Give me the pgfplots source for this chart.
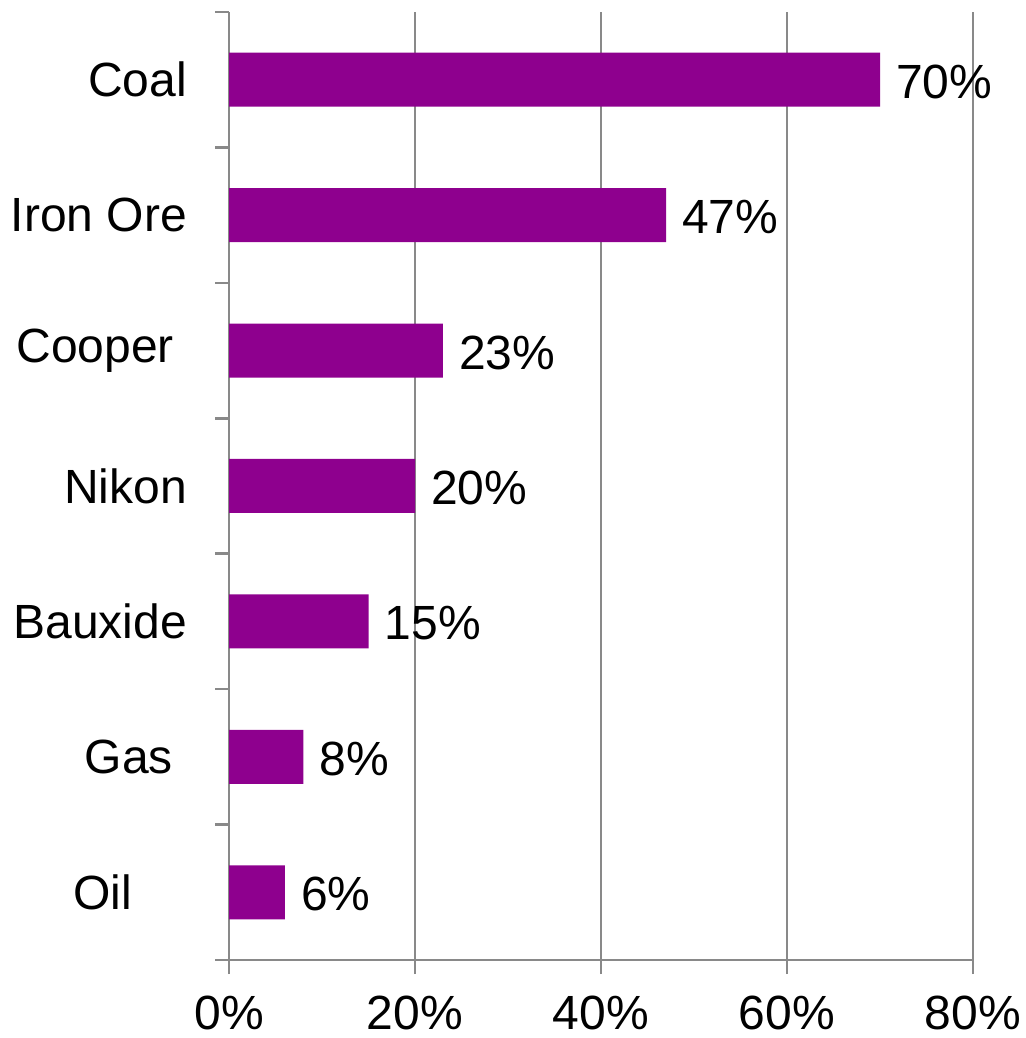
\documentclass[border=0pt]{standalone}
\usepackage{fontspec}
\setmainfont{Liberation Sans}
\usepackage{pgfplots}
\pgfplotsset{compat=1.18}
\definecolor{barpurple}{RGB}{142,0,142}
\definecolor{axgray}{RGB}{137,137,137}
\begin{document}
\begin{tikzpicture}[x=1pt,y=1pt]
\useasboundingbox (0,0) rectangle (1025,1038);
\begin{axis}[
  at={(229pt,78pt)}, anchor=south west,
  scale only axis, width=744pt, height=948pt,
  xmin=0, xmax=80, ymin=-0.5, ymax=6.5,
  axis x line*=bottom, axis y line*=left,
  axis line style={-, draw=axgray, line width=2.5pt},
  /pgf/number format/assume math mode=true,
  xtick={0,20,40,60,80},
  xticklabels={0\%,20\%,40\%,60\%,80\%},
  xmajorgrids, grid style={draw=axgray, line width=2pt},
  ytick={-0.5,0.5,...,6.5},
  yticklabels={},
  extra y ticks={0,...,6},
  extra y tick labels={Oil\kern55pt,Gas\kern14pt,Bauxide,Nikon,Cooper\kern13pt,Iron Ore,Coal},
  extra y tick style={major tick length=0pt, tick style={draw=none},
     yticklabel style={anchor=east, xshift=-42pt}},
  tick align=outside,
  major tick length=14pt,
  tick style={draw=axgray, line width=2.5pt},
  tick label style={font=\fontsize{48}{56}\selectfont, text=black, inner sep=0pt},
  xticklabel style={anchor=north, yshift=-22pt},
  xbar, bar width=54pt,
  nodes near coords={\pgfmathprintnumber{\pgfplotspointmeta}\%},
  every node near coord/.append style={font=\fontsize{48}{56}\selectfont, anchor=west, inner sep=0pt, xshift=16pt, yshift=-2pt, text=black},
  clip=false,
]
\addplot[fill=barpurple, draw=none] coordinates {
(6,0) (8,1) (15,2) (20,3) (23,4) (47,5) (70,6)
};
\end{axis}
\end{tikzpicture}
\end{document}
